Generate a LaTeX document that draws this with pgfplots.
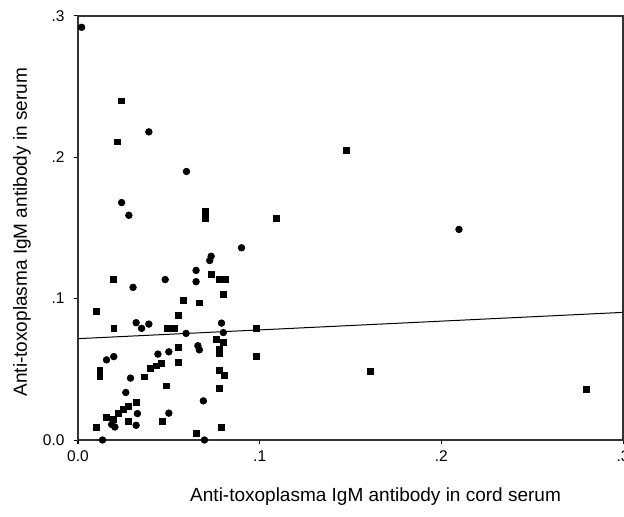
\documentclass[border=0pt]{standalone}
\usepackage{fontspec}
\setmainfont{Liberation Sans}
\usepackage{pgfplots}
\pgfplotsset{compat=1.18}
\begin{document}
\begin{tikzpicture}
\path[use as bounding box] (-46.8pt,-46.2pt) rectangle (327.6pt,264pt);
\begin{axis}[
  scale only axis, width=327pt, height=254.4pt,
  xmin=0, xmax=0.3, ymin=0, ymax=0.3,
  axis line style={black!80, line width=0.7pt},
  xtick={0,0.1,0.2,0.3}, ytick={0,0.1,0.2,0.3},
  xticklabels={0.0,.1,.2,.3}, yticklabels={0.0,.1,.2,.3},
  tick align=outside, tickpos=left, major tick length=2.6pt,
  tick style={black, line width=0.6pt},
  ticklabel style={font=\fontsize{9.3}{10}\selectfont},
  xticklabel style={yshift=-0.5pt},
  yticklabel style={xshift=-2pt},
  xlabel={Anti-toxoplasma IgM antibody in cord serum},
  ylabel={Anti-toxoplasma IgM antibody in serum},
  label style={font=\fontsize{11.4}{13}\selectfont},
  xlabel style={at={(axis description cs:0.546,-0.1344)}, anchor=center},
  ylabel style={at={(axis description cs:-0.103,0.49)}, anchor=center},
  clip=false,
]
\addplot[black, line width=0.6pt] coordinates {(0,0.0717) (0.3,0.0903)};
\addplot[only marks, mark=square*, mark size=1.75pt, black] coordinates {
(0.024,0.240) (0.0215,0.211) (0.070,0.162) (0.070,0.157) (0.109,0.157)
(0.0736,0.1175) (0.078,0.1135) (0.081,0.1135) (0.0194,0.1135) (0.080,0.1028)
(0.058,0.0986) (0.0668,0.097) (0.0099,0.091) (0.0553,0.088) (0.0197,0.079)
(0.049,0.079) (0.053,0.079) (0.098,0.079) (0.0763,0.0714) (0.080,0.069)
(0.0553,0.0655) (0.078,0.064) (0.078,0.0615) (0.098,0.059) (0.0553,0.0548)
(0.0458,0.0541) (0.043,0.0525) (0.040,0.0508) (0.012,0.049) (0.012,0.045)
(0.078,0.049) (0.0805,0.046) (0.0367,0.0447) (0.161,0.0487) (0.0486,0.0383)
(0.078,0.0366) (0.280,0.036) (0.032,0.0265) (0.0276,0.024) (0.0248,0.0218)
(0.022,0.019) (0.0157,0.0163) (0.0194,0.0147) (0.0276,0.013) (0.0462,0.0135)
(0.0099,0.0087) (0.079,0.0087) (0.065,0.005) (0.1476,0.205)
};
\addplot[only marks, mark=*, mark size=2pt, black] coordinates {
(0.002,0.292) (0.039,0.218) (0.0597,0.190) (0.024,0.168) (0.028,0.159)
(0.090,0.136) (0.0733,0.130) (0.0725,0.127) (0.065,0.120) (0.065,0.112)
(0.048,0.1135) (0.0303,0.108) (0.079,0.0827) (0.032,0.083) (0.035,0.079)
(0.039,0.082) (0.080,0.076) (0.0595,0.0754) (0.066,0.0667) (0.0668,0.0638)
(0.050,0.0624) (0.044,0.0608) (0.0197,0.059) (0.0157,0.0567) (0.0289,0.0438)
(0.0263,0.0336) (0.069,0.0277) (0.0327,0.0187) (0.050,0.019) (0.0185,0.011)
(0.0203,0.0092) (0.032,0.0104) (0.0135,0.0) (0.0696,0.0) (0.2097,0.149)
};
\end{axis}
\end{tikzpicture}
\end{document}
